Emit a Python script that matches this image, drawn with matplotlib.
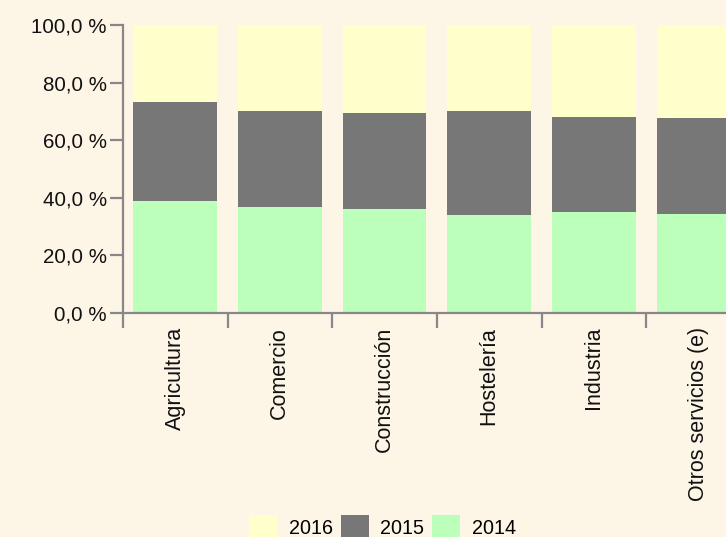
import matplotlib
matplotlib.use("Agg")
import matplotlib.pyplot as plt
import numpy as np
from matplotlib.patches import Patch

categories = ["Agricultura", "Comercio", "Construcción", "Hostelería", "Industria", "Otros servicios (e)"]
s2014 = [38.9, 36.9, 36.1, 34.0, 35.1, 34.4]
s2015 = [34.4, 33.2, 33.3, 36.1, 33.0, 33.3]
s2016 = [26.7, 29.9, 30.6, 29.9, 31.9, 32.3]
ytick_vals = [0, 20, 40, 60, 80, 100]
ytick_labels = ["0,0 %", "20,0 %", "40,0 %", "60,0 %", "80,0 %", "100,0 %"]

BG = "#fdf5e6"
C2014 = "#bbffbb"
C2015 = "#777777"
C2016 = "#ffffcc"
AX = "#888888"

plt.rcParams["font.family"] = ["Liberation Sans", "DejaVu Sans"]

fig = plt.figure(figsize=(7.26, 5.37), dpi=100, facecolor=BG)
ax = fig.add_axes([122.8 / 726, (537 - 313) / 537, (726 - 122.8) / 726, (313 - 25) / 537])
ax.set_facecolor(BG)

x = np.arange(len(categories))
b1 = np.array(s2014)
b2 = b1 + np.array(s2015)
ax.bar(x, s2014, width=0.8, color=C2014, linewidth=0)
ax.bar(x, s2015, width=0.8, bottom=b1, color=C2015, linewidth=0)
ax.bar(x, s2016, width=0.8, bottom=b2, color=C2016, linewidth=0)

ax.set_ylim(0, 100)
ax.set_xlim(-0.5, -0.5 + (726 - 122.8) / 104.7)

for s in ["top", "right"]:
    ax.spines[s].set_visible(False)
for s in ["left", "bottom"]:
    ax.spines[s].set_color(AX)
    ax.spines[s].set_linewidth(1.6)

ax.set_yticks(ytick_vals)
ax.set_yticklabels(ytick_labels, fontsize=14.8, color="#111111")
ax.tick_params(axis="y", length=9.4, width=1.6, color=AX, pad=2)

ax.set_xticks(x)
ax.set_xticklabels(categories, rotation=90, fontsize=15.5, color="#111111")
ax.tick_params(axis="x", which="major", length=0, pad=10)
ax.set_xticks(np.arange(len(categories)) - 0.5, minor=True)
ax.tick_params(axis="x", which="minor", length=10.5, width=1.6, color=AX)

handles = [Patch(facecolor=C2016, label="2016"),
           Patch(facecolor=C2015, label="2015"),
           Patch(facecolor=C2014, label="2014")]
fig.legend(handles=handles, loc="center", bbox_to_anchor=(382.5 / 726, 1 - 527 / 537),
           ncol=3, frameon=False, fontsize=14.2, handlelength=1.42, handleheight=1.42,
           handletextpad=0.6, columnspacing=0.4, borderpad=0, borderaxespad=0)

fig.savefig("out.png", dpi=100, facecolor=BG)
